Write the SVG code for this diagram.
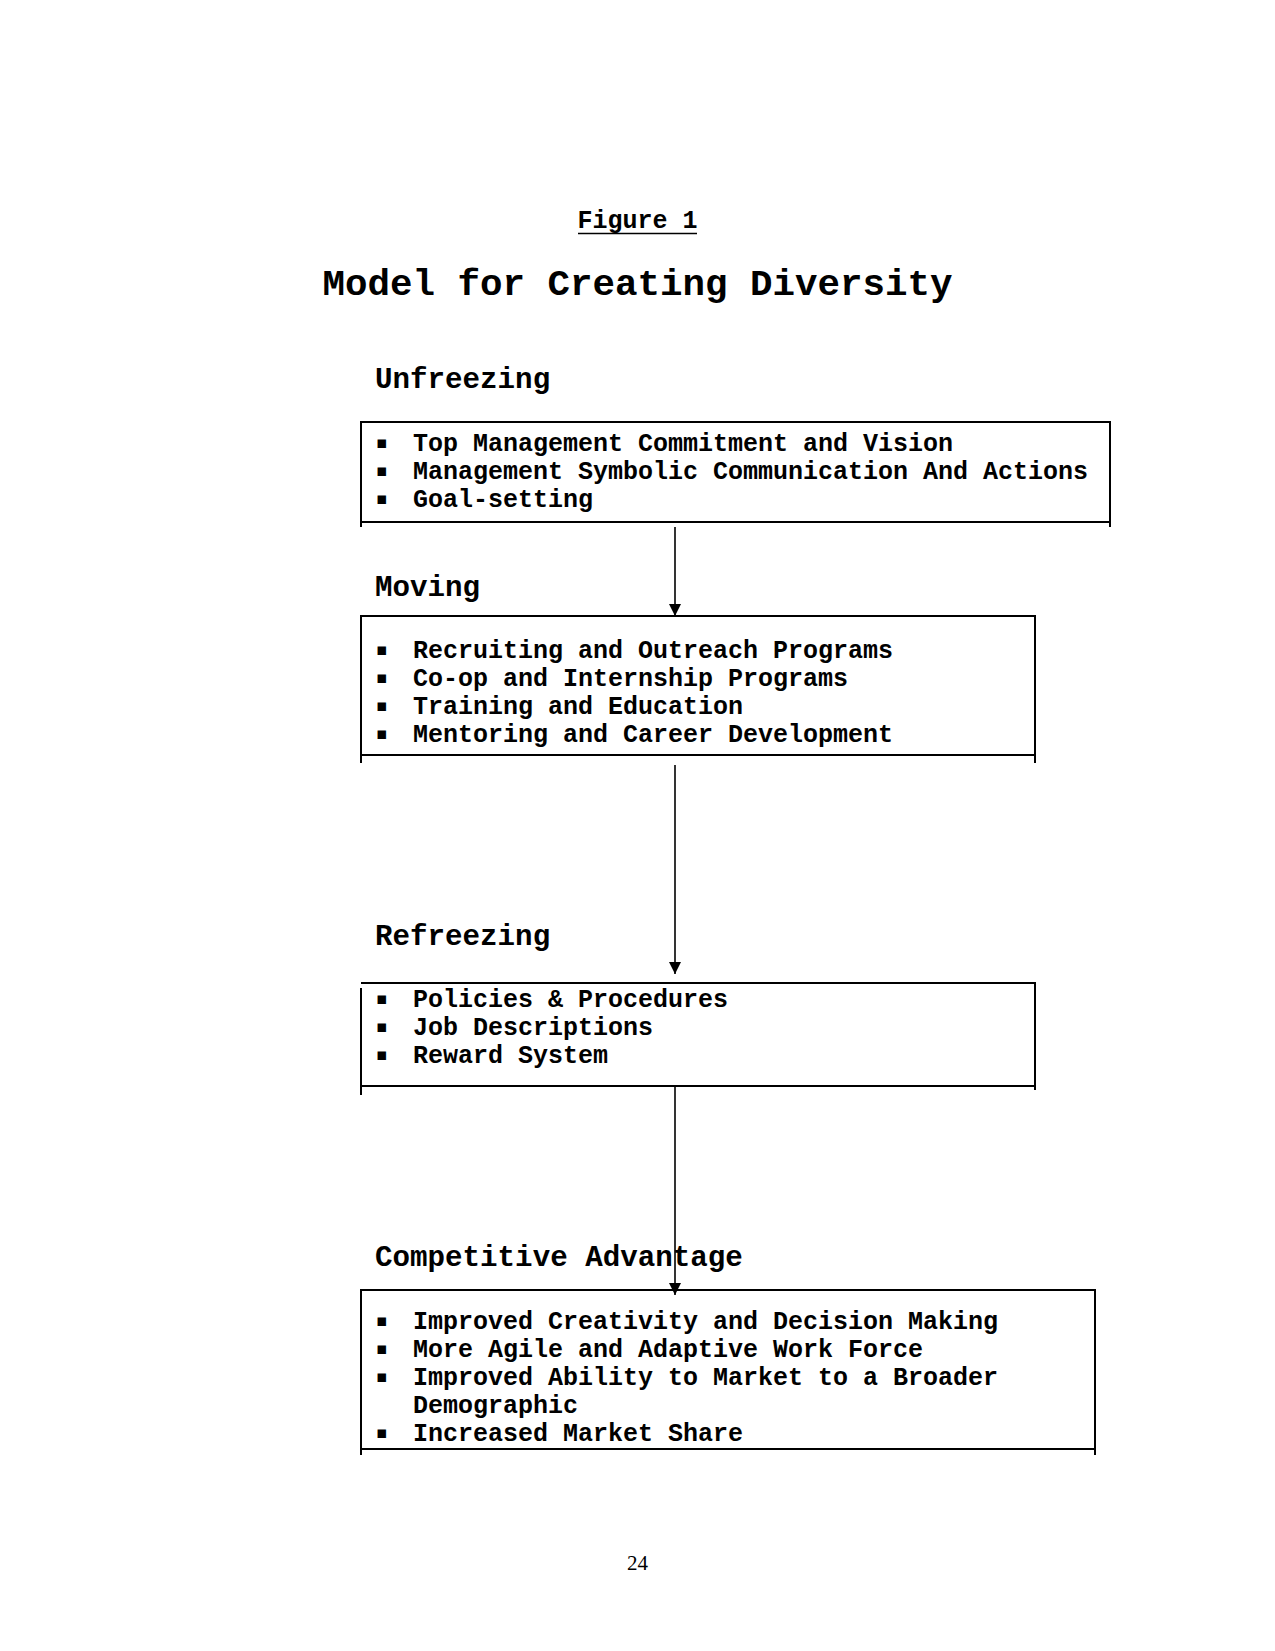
<svg xmlns="http://www.w3.org/2000/svg" width="1275" height="1651" viewBox="0 0 1275 1651">
<style>
.mono{font-family:"Liberation Mono","DejaVu Sans Mono",monospace;font-weight:bold;fill:#000}
.item{font-size:25px}
.head{font-size:29.2px}
.bul{font-family:"DejaVu Sans",sans-serif;font-size:17px;fill:#000}
.box{fill:none;stroke:#000;stroke-width:2}
.conn{stroke:#000;stroke-width:1.6;fill:none}
</style>
<defs>
<marker id="arrow" viewBox="0 0 12 12" refX="12" refY="6" markerWidth="12" markerHeight="12" orient="auto" markerUnits="userSpaceOnUse">
<path d="M0,0 L12,6 L0,12 Z" fill="#000"/>
</marker>
</defs>
<rect width="1275" height="1651" fill="#fff"/>
<g id="header">
<text class="mono item" x="637.5" y="228" text-anchor="middle">Figure 1</text>
<line x1="578" y1="233.5" x2="697" y2="233.5" stroke="#000" stroke-width="1.6"/>
<text class="mono" x="637.5" y="295" font-size="37.5" text-anchor="middle">Model for Creating Diversity</text>
</g>
<g id="unfreezing">
<text class="mono head" x="375" y="388">Unfreezing</text>
<path class="box" d="M361,527 V422 H1110 V527 M361,522 H1110"/>
<text class="bul" x="376" y="447.5">▪</text>
<text class="mono item" x="413" y="451">Top Management Commitment and Vision</text>
<text class="bul" x="376" y="475.5">▪</text>
<text class="mono item" x="413" y="479">Management Symbolic Communication And Actions</text>
<text class="bul" x="376" y="503.5">▪</text>
<text class="mono item" x="413" y="507">Goal-setting</text>
</g>
<g id="moving">
<text class="mono head" x="375" y="596">Moving</text>
<path class="box" d="M361,763 V616 H1035 V763 M361,755 H1035"/>
<text class="bul" x="376" y="654.5">▪</text>
<text class="mono item" x="413" y="658">Recruiting and Outreach Programs</text>
<text class="bul" x="376" y="682.5">▪</text>
<text class="mono item" x="413" y="686">Co-op and Internship Programs</text>
<text class="bul" x="376" y="710.5">▪</text>
<text class="mono item" x="413" y="714">Training and Education</text>
<text class="bul" x="376" y="738.5">▪</text>
<text class="mono item" x="413" y="742">Mentoring and Career Development</text>
</g>
<g id="refreezing">
<text class="mono head" x="375" y="945">Refreezing</text>
<path class="box" d="M361,988 V1095 M361,983 H1035 V1090 M361,1086 H1035"/>
<text class="bul" x="376" y="1003.5">▪</text>
<text class="mono item" x="413" y="1007">Policies &amp; Procedures</text>
<text class="bul" x="376" y="1031.5">▪</text>
<text class="mono item" x="413" y="1035">Job Descriptions</text>
<text class="bul" x="376" y="1059.5">▪</text>
<text class="mono item" x="413" y="1063">Reward System</text>
</g>
<g id="competitive">
<text class="mono head" x="375" y="1266">Competitive Advantage</text>
<path class="box" d="M361,1455 V1290 H1095 V1455 M361,1449 H1095"/>
<text class="bul" x="376" y="1325.5">▪</text>
<text class="mono item" x="413" y="1329">Improved Creativity and Decision Making</text>
<text class="bul" x="376" y="1353.5">▪</text>
<text class="mono item" x="413" y="1357">More Agile and Adaptive Work Force</text>
<text class="bul" x="376" y="1381.5">▪</text>
<text class="mono item" x="413" y="1385">Improved Ability to Market to a Broader</text>
<text class="mono item" x="413" y="1413">Demographic</text>
<text class="bul" x="376" y="1437.5">▪</text>
<text class="mono item" x="413" y="1441">Increased Market Share</text>
</g>
<g id="connectors">
<line class="conn" x1="675" y1="527" x2="675" y2="616" marker-end="url(#arrow)"/>
<line class="conn" x1="675" y1="765" x2="675" y2="974" marker-end="url(#arrow)"/>
<line class="conn" x1="675" y1="1087" x2="675" y2="1295" marker-end="url(#arrow)"/>
</g>
<text x="637.5" y="1570" font-family="Liberation Serif,serif" font-size="21" text-anchor="middle" fill="#000">24</text>
</svg>
